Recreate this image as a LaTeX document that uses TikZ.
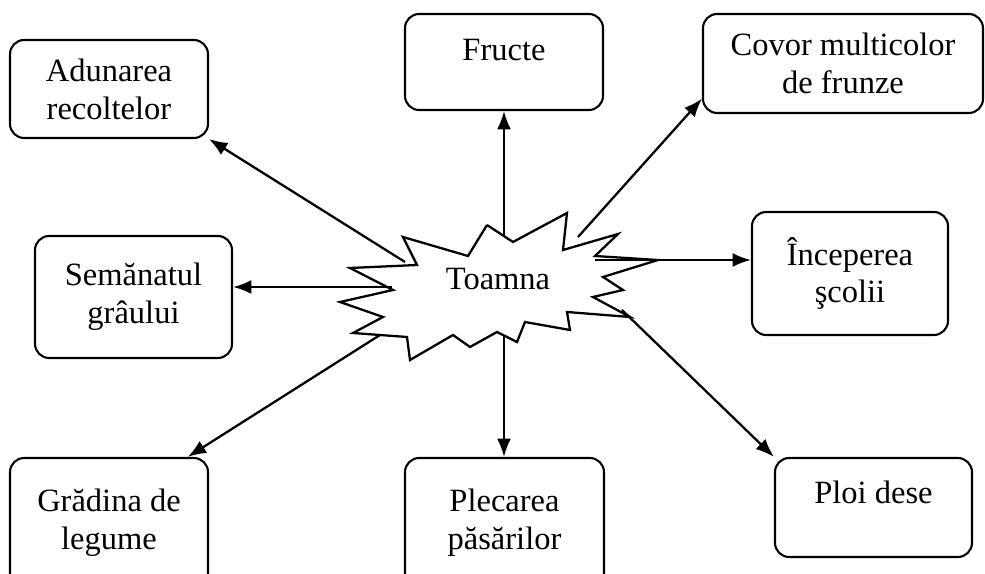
\documentclass[tikz,border=0pt]{standalone}
\usepackage{fontspec}
\setmainfont{Liberation Serif}
\usetikzlibrary{arrows.meta}

\begin{document}
\begin{tikzpicture}[x=0.02cm, y=-0.02cm,
  box/.style={draw, line width=1.2pt, rounded corners=8pt, align=center, inner sep=0pt, font=\fontsize{18.5}{21.6}\selectfont},
  arr/.style={line width=1.3pt, -{Latex[length=10.5pt, width=8pt]}}]

\clip (0,0) rectangle (985,574);

\node[box, minimum width=3.96cm, minimum height=1.96cm] (adun) at (109,89) {Adunarea\\recoltelor};
\node[box, minimum width=3.96cm, minimum height=1.92cm] (fructe) at (504,62) {Fructe\\[-8pt] \mbox{}};
\node[box, minimum width=5.6cm, minimum height=1.98cm] (covor) at (843,63.5) {Covor multicolor\\de frunze};
\node[box, minimum width=3.94cm, minimum height=2.44cm] (seman) at (133.5,297) {Semănatul\\grâului};
\node[box, minimum width=3.92cm, minimum height=2.46cm] (incep) at (850,273.5) {Începerea\\şcolii};
\node[box, minimum width=3.96cm, minimum height=2.6cm] (gradina) at (109,523) {Grădina de\\legume};
\node[box, minimum width=3.98cm, minimum height=2.6cm] (plecarea) at (504.5,523) {Plecarea\\păsărilor};
\node[box, minimum width=3.94cm, minimum height=1.98cm] (ploi) at (873.5,507.5) {Ploi dese\\[-4pt] \mbox{}};

\draw[line width=1.3pt, fill=white] plot coordinates {(487,225) (513,242) (567,213) (563,250) (618,234) (595,256) (658,260) (603,277) (623,290) (593,297) (630,317) (567,312) (570,330) (525,322) (517,342) (497,332) (470,347) (453,335) (410,360) (407,337) (353,333) (383,317) (340,302) (393,290) (350,268) (417,265) (403,237) (468,256) (487,225)};
\node[font=\fontsize{18.5}{21.6}\selectfont] (toamna) at (498,279) {Toamna};

\coordinate (tN) at (504,236);
\coordinate (tNE) at (578,237);
\coordinate (tE) at (595,260);
\coordinate (tSE) at (622,310);
\coordinate (tS) at (504,335);
\coordinate (tSW) at (380,335);
\coordinate (tW) at (392,287);
\coordinate (tNW) at (405,262);

\draw[arr] (tN) -- (tN |- fructe.south);
\draw[arr] (tNE) -- (covor.194);
\draw[arr] (tE) -- (tE -| incep.west);
\draw[arr] (tSE) -- (ploi.north west);
\draw[arr] (tS) -- (tS |- plecarea.north);
\draw[arr] (tSW) -- (gradina.40);
\draw[arr] (tW) -- (tW -| seman.east);
\draw[arr] (tNW) -- (adun.south east);
\end{tikzpicture}
\end{document}
